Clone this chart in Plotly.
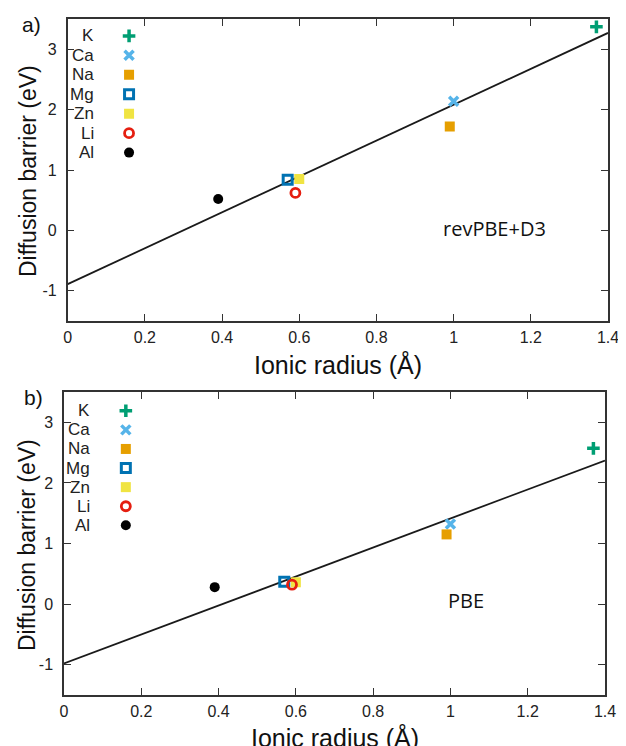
import plotly.graph_objects as go

# ---------------- data ----------------
ions = ["K", "Ca", "Na", "Mg", "Zn", "Li", "Al"]
ionic_radius = [1.37, 1.00, 0.99, 0.57, 0.60, 0.59, 0.39]
barrier_revpbe_d3 = [3.37, 2.14, 1.72, 0.84, 0.85, 0.62, 0.52]
barrier_pbe = [2.57, 1.32, 1.15, 0.37, 0.36, 0.32, 0.28]
fit_x = [0.0, 1.4]
fit_revpbe_d3 = [-0.89, 3.27]
fit_pbe = [-0.98, 2.37]
x_ticks = [0, 0.2, 0.4, 0.6, 0.8, 1.0, 1.2, 1.4]
x_tick_labels = ["0", "0.2", "0.4", "0.6", "0.8", "1", "1.2", "1.4"]
y_ticks = [-1, 0, 1, 2, 3]
y_tick_labels = ["-1", "0", "1", "2", "3"]

# ---------------- styles ----------------
styles = {
    "K":  dict(symbol="cross-thin", color="#009E73", size=9, line=dict(width=3.5, color="#009E73")),
    "Ca": dict(symbol="x-thin", color="#56B4E9", size=9, line=dict(width=3.5, color="#56B4E9")),
    "Na": dict(symbol="square", color="#E69F00", size=10, line=dict(width=0)),
    "Mg": dict(symbol="square-open", color="#0072B2", size=9, line=dict(width=3, color="#0072B2")),
    "Zn": dict(symbol="square", color="#F0E442", size=10, line=dict(width=0)),
    "Li": dict(symbol="circle-open", color="#E51E10", size=9, line=dict(width=2.8, color="#E51E10")),
    "Al": dict(symbol="circle", color="#000000", size=10, line=dict(width=0)),
}

fig = go.Figure()

panels = [
    dict(xa="x", ya="y", vals=barrier_revpbe_d3, fit=fit_revpbe_d3,
         leg_x=0.159, leg_y0=3.22, leg_step=0.322, lab_x=0.074),
    dict(xa="x2", ya="y2", vals=barrier_pbe, fit=fit_pbe,
         leg_x=0.160, leg_y0=3.19, leg_step=0.315, lab_x=0.072),
]

annotations = []
for p in panels:
    fig.add_trace(go.Scatter(x=fit_x, y=p["fit"], mode="lines",
                             line=dict(color="#1a1a1a", width=1.8),
                             xaxis=p["xa"], yaxis=p["ya"], showlegend=False,
                             hoverinfo="skip"))
    for i, ion in enumerate(ions):
        st = styles[ion]
        mk = dict(symbol=st["symbol"], color=st["color"], size=st["size"], line=st["line"])
        fig.add_trace(go.Scatter(x=[ionic_radius[i]], y=[p["vals"][i]], mode="markers",
                                 marker=mk, name=ion, xaxis=p["xa"], yaxis=p["ya"],
                                 showlegend=False))
        # legend key (gnuplot-style: label then marker)
        ly = p["leg_y0"] - i * p["leg_step"]
        fig.add_trace(go.Scatter(x=[p["leg_x"]], y=[ly], mode="markers", marker=mk,
                                 xaxis=p["xa"], yaxis=p["ya"], showlegend=False,
                                 hoverinfo="skip"))
        annotations.append(dict(x=p["lab_x"], y=ly, xref=p["xa"], yref=p["ya"],
                                text=ion, showarrow=False, xanchor="right", yanchor="middle",
                                font=dict(family="Liberation Sans", size=17, color="#222")))

axis_common = dict(
    showline=True, linecolor="#333", linewidth=1.5, mirror="allticks",
    ticks="inside", ticklen=7, tickwidth=1.3, tickcolor="#333",
    showgrid=False, zeroline=False, automargin=False,
    tickfont=dict(family="Liberation Sans", size=16, color="#222"),
)

W, H = 626, 746
OFF = 8  # page body margin in the browser
# pixel boxes of panels (screen coordinates)
top = dict(l=67.7, r=608, t=19, b=321)
bot = dict(l=64, r=605, t=392, b=695)

def px(x):
    return (x - OFF) / W

def py(y):
    return 1 - (y - OFF) / H

def xd(b):
    return [px(b["l"]), px(b["r"])]

def yd(b):
    return [py(b["b"]), py(b["t"])]

fig.update_layout(
    width=W, height=H, margin=dict(l=0, r=0, t=0, b=0),
    paper_bgcolor="white", plot_bgcolor="white",
    xaxis=dict(domain=xd(top), range=[0, 1.4], tickvals=x_ticks, ticktext=x_tick_labels,
               anchor="y", ticklabelstandoff=1, **axis_common),
    yaxis=dict(domain=yd(top), range=[-1.5, 3.5], tickvals=y_ticks, ticktext=y_tick_labels,
               anchor="x", ticklabelstandoff=6, **axis_common),
    xaxis2=dict(domain=xd(bot), range=[0, 1.4], tickvals=x_ticks, ticktext=x_tick_labels,
                anchor="y2", ticklabelstandoff=1, **axis_common),
    yaxis2=dict(domain=yd(bot), range=[-1.5, 3.5], tickvals=y_ticks, ticktext=y_tick_labels,
                anchor="x2", ticklabelstandoff=6, **axis_common),
)

xtitle_font = dict(family="Liberation Sans", size=25, color="#111")
ytitle_font = dict(family="Liberation Sans", size=23, color="#111")
text_font = dict(family="Open Sans", size=20, color="#111")
lab_font = dict(family="Liberation Sans", size=21, color="#111")
c = dict(xref="paper", yref="paper", showarrow=False, xanchor="center", yanchor="middle")
annotations += [
    dict(x=px((top["l"] + top["r"]) / 2), y=py(364), text="Ionic radius (Å)",
         font=xtitle_font, **c),
    dict(x=px((bot["l"] + bot["r"]) / 2), y=py(737), text="Ionic radius (Å)",
         font=xtitle_font, **c),
    dict(x=px(28), y=py(171), text="Diffusion barrier (eV)", font=ytitle_font,
         textangle=-90, **c),
    dict(x=px(27), y=py(545), text="Diffusion barrier (eV)", font=ytitle_font,
         textangle=-90, **c),
    dict(x=px(31), y=py(24), text="a)", font=lab_font, **c),
    dict(x=px(33), y=py(397), text="b)", font=lab_font, **c),
    dict(x=px(494), y=py(229), text="revPBE+D3", font=text_font, **c),
    dict(x=px(466), y=py(600), text="PBE", font=text_font, **c),
]
fig.update_layout(annotations=annotations)

fig.write_html("out.html")
